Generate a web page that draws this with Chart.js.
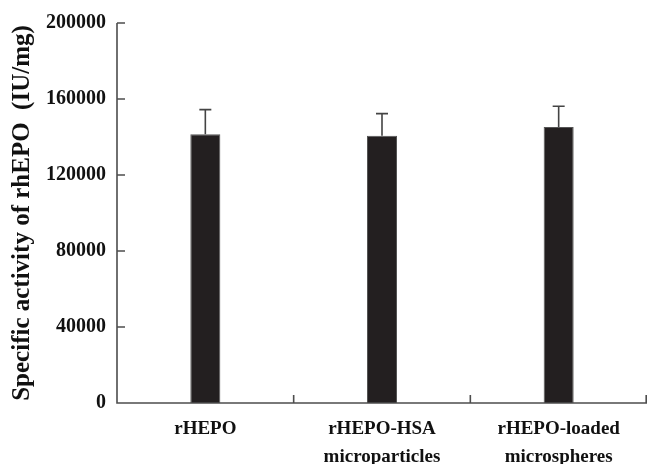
<!DOCTYPE html>
<html>
<head>
<meta charset="utf-8">
<script src="https://cdn.jsdelivr.net/npm/chart.js@4/dist/chart.umd.min.js"></script>
<style>
  html, body { margin: 0; padding: 0; background: #fff; }
  #wrap { width: 649px; height: 464px; }
</style>
</head>
<body>
<div id="wrap"><canvas id="myChart"></canvas></div>
<script>
const categorias = [['rHEPO'], ['rHEPO-HSA', 'microparticles'], ['rHEPO-loaded', 'microspheres']];
const actividad = [141500, 140600, 145200];
const errorSup = [154400, 152300, 156200];
const marcasY = [0, 40000, 80000, 120000, 160000, 200000];

const colorEje = '#4d4d4d';
const fuente = 'Liberation Serif, Times New Roman, serif';

// barras de error hacia arriba con tope
const barrasError = {
    id: 'barrasError',
    afterDatasetsDraw(chart) {
        const ctx = chart.ctx;
        const y = chart.scales.y;
        const meta = chart.getDatasetMeta(0);
        ctx.save();
        ctx.strokeStyle = '#444';
        ctx.lineWidth = 1.6;
        meta.data.forEach((bar, i) => {
            const yTop = y.getPixelForValue(errorSup[i]);
            ctx.beginPath();
            ctx.moveTo(bar.x, bar.y);
            ctx.lineTo(bar.x, yTop);
            ctx.moveTo(bar.x - 6, yTop);
            ctx.lineTo(bar.x + 6, yTop);
            ctx.stroke();
        });
        ctx.restore();
    }
};

// ejes con marcas hacia adentro
const ejes = {
    id: 'ejes',
    afterDraw(chart) {
        const ctx = chart.ctx;
        const area = chart.chartArea;
        const x = chart.scales.x;
        const y = chart.scales.y;
        ctx.save();
        ctx.strokeStyle = colorEje;
        ctx.lineWidth = 1.6;
        ctx.beginPath();
        ctx.moveTo(area.left, area.top);
        ctx.lineTo(area.left, area.bottom);
        ctx.lineTo(area.right, area.bottom);
        marcasY.forEach(v => {
            const py = y.getPixelForValue(v);
            ctx.moveTo(area.left, py);
            ctx.lineTo(area.left + 8, py);
        });
        const n = categorias.length;
        for (let i = 0; i < n; i++) {
            let px;
            if (i < n - 1) {
                px = (x.getPixelForValue(i) + x.getPixelForValue(i + 1)) / 2;
            } else {
                px = area.right - 0.8;
            }
            ctx.moveTo(px, area.bottom);
            ctx.lineTo(px, area.bottom - 8);
        }
        ctx.stroke();
        ctx.restore();
    }
};

const data = {
    labels: categorias,
    datasets: [{
        data: actividad,
        backgroundColor: '#231f20',
        borderColor: '#555',
        borderWidth: 1,
        categoryPercentage: 1,
        barPercentage: 0.17
    }]
};

const config = {
    type: 'bar',
    data,
    options: {
        responsive: false,
        animation: false,
        layout: { padding: { top: 22, right: 2, left: 0, bottom: 0 } },
        plugins: {
            legend: { display: false },
            tooltip: { enabled: false }
        },
        scales: {
            x: {
                offset: true,
                grid: { display: false, drawTicks: false },
                border: { display: false },
                ticks: {
                    color: '#111',
                    padding: 12,
                    maxRotation: 0,
                    autoSkip: false,
                    font: { family: fuente, size: 19, weight: 'bold', lineHeight: 1.47 }
                },
                afterFit: s => { s.height = 61; }
            },
            y: {
                min: 0,
                max: 200000,
                afterBuildTicks: s => { s.ticks = marcasY.map(v => ({ value: v })); },
                grid: { display: false, drawTicks: false },
                border: { display: false },
                ticks: {
                    color: '#111',
                    padding: 11,
                    callback: v => String(v),
                    font: { family: fuente, size: 20, weight: 'bold' }
                },
                title: {
                    display: true,
                    text: 'Specific activity of rhEPO  (IU/mg)',
                    color: '#111',
                    padding: { top: 8, bottom: 0 },
                    font: { family: fuente, size: 25, weight: 'bold' }
                },
                afterFit: s => { s.width = 117; }
            }
        }
    },
    plugins: [barrasError, ejes]
};

const myChart = document.getElementById('myChart');
myChart.width = 649;
myChart.height = 464;
new Chart(myChart, config);
</script>
</body>
</html>
